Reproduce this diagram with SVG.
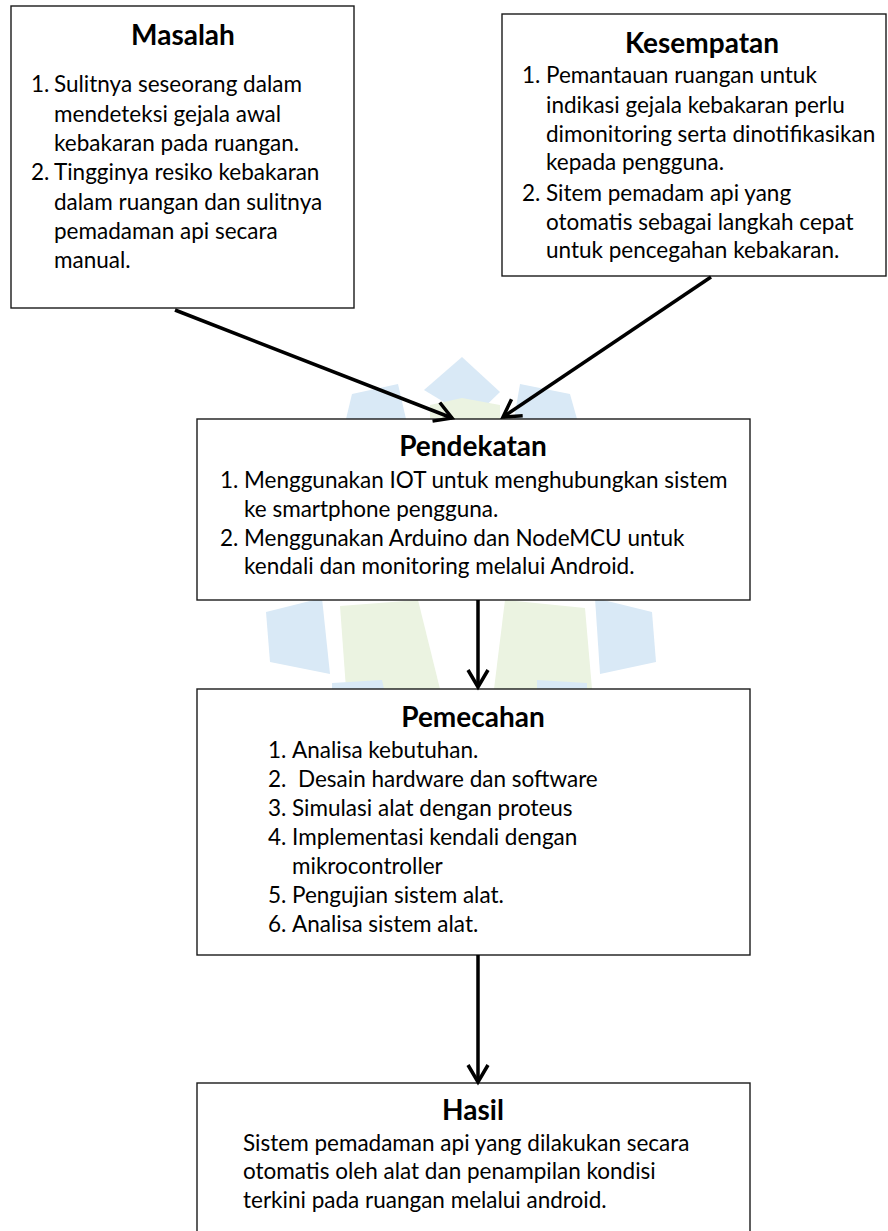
<svg xmlns="http://www.w3.org/2000/svg" width="888" height="1231" viewBox="0 0 888 1231">
<style>
  .box { fill: #ffffff; stroke: #1a1a1a; stroke-width: 1.4; }
  .t { font-family: Lato, "Liberation Sans", sans-serif; font-size: 22.5px; fill: #000; }
  .h { font-family: Lato, "Liberation Sans", sans-serif; font-size: 28px; font-weight: bold; fill: #000; text-anchor: middle; }
  .c { stroke: #000; stroke-width: 3.5; fill: none; }
  .wb { fill: #d9e9f6; }
  .wg { fill: #ebf3e1; }
</style>
<defs>
  <marker id="arr" markerUnits="userSpaceOnUse" markerWidth="30" markerHeight="30" refX="0" refY="0" viewBox="-22 -15 26 30" orient="auto">
    <path d="M -17,-10 L 0,0 L -17,10" fill="none" stroke="#000" stroke-width="3.5" stroke-linejoin="miter"/>
  </marker>
</defs>
<rect width="888" height="1231" fill="#ffffff"/>
<g id="watermark">
  <polygon class="wb" points="462,357 500,392 472,419 424,390"/>
  <polygon class="wb" points="352,394 398,384 406,419 346,419"/>
  <polygon class="wb" points="520,384 570,394 577,419 514,419"/>
  <polygon class="wg" points="430,405 462,398 500,405 500,419 430,419"/>
  <polygon class="wb" points="266,612 322,598 330,674 270,662"/>
  <polygon class="wg" points="340,606 418,600 440,689 346,689"/>
  <polygon class="wg" points="505,600 585,608 592,689 494,689"/>
  <polygon class="wb" points="595,598 652,612 656,662 600,674"/>
  <polygon class="wb" points="332,683 382,680 384,689 332,689"/>
  <polygon class="wb" points="537,680 587,683 587,689 537,689"/>
</g>
<g id="masalah">
  <rect class="box" x="11" y="6" width="343" height="302"/>
  <text class="h" x="183" y="45">Masalah</text>
  <text class="t" x="31" y="92">1.</text><text class="t" x="54" y="92">Sulitnya seseorang dalam</text>
  <text class="t" x="54" y="122">mendeteksi gejala awal</text>
  <text class="t" x="54" y="151">kebakaran pada ruangan.</text>
  <text class="t" x="31" y="180">2.</text><text class="t" x="54" y="180">Tingginya resiko kebakaran</text>
  <text class="t" x="54" y="210">dalam ruangan dan sulitnya</text>
  <text class="t" x="54" y="239">pemadaman api secara</text>
  <text class="t" x="54" y="268">manual.</text>
</g>
<g id="kesempatan">
  <rect class="box" x="502" y="14" width="384" height="262"/>
  <text class="h" x="702" y="53">Kesempatan</text>
  <text class="t" x="522" y="83">1.</text><text class="t" x="546" y="83">Pemantauan ruangan untuk</text>
  <text class="t" x="546" y="113">indikasi gejala kebakaran perlu</text>
  <text class="t" x="546" y="142">dimonitoring serta dinotifikasikan</text>
  <text class="t" x="546" y="170">kepada pengguna.</text>
  <text class="t" x="522" y="201">2.</text><text class="t" x="546" y="201">Sitem pemadam api yang</text>
  <text class="t" x="546" y="230">otomatis sebagai langkah cepat</text>
  <text class="t" x="546" y="258">untuk pencegahan kebakaran.</text>
</g>
<g id="pendekatan">
  <rect class="box" x="197" y="419" width="553" height="181"/>
  <text class="h" x="473" y="456">Pendekatan</text>
  <text class="t" x="220" y="488">1.</text><text class="t" x="244" y="488">Menggunakan IOT untuk menghubungkan sistem</text>
  <text class="t" x="244" y="517">ke smartphone pengguna.</text>
  <text class="t" x="220" y="546">2.</text><text class="t" x="244" y="546">Menggunakan Arduino dan NodeMCU untuk</text>
  <text class="t" x="244" y="574">kendali dan monitoring melalui Android.</text>
</g>
<g id="pemecahan">
  <rect class="box" x="197" y="689" width="553" height="266"/>
  <text class="h" x="473" y="727">Pemecahan</text>
  <text class="t" x="268" y="758">1.</text><text class="t" x="292" y="758">Analisa kebutuhan.</text>
  <text class="t" x="268" y="787">2.</text><text class="t" x="298" y="787">Desain hardware dan software</text>
  <text class="t" x="268" y="816">3.</text><text class="t" x="292" y="816">Simulasi alat dengan proteus</text>
  <text class="t" x="268" y="845">4.</text><text class="t" x="292" y="845">Implementasi kendali dengan</text>
  <text class="t" x="292" y="874">mikrocontroller</text>
  <text class="t" x="268" y="903">5.</text><text class="t" x="292" y="903">Pengujian sistem alat.</text>
  <text class="t" x="268" y="932">6.</text><text class="t" x="292" y="932">Analisa sistem alat.</text>
</g>
<g id="hasil">
  <rect class="box" x="197" y="1083" width="553" height="160"/>
  <text class="h" x="473" y="1120">Hasil</text>
  <text class="t" x="243" y="1151">Sistem pemadaman api yang dilakukan secara</text>
  <text class="t" x="243" y="1179">otomatis oleh alat dan penampilan kondisi</text>
  <text class="t" x="243" y="1208">terkini pada ruangan melalui android.</text>
</g>
<g id="connectors">
  <line class="c" x1="175" y1="310" x2="452" y2="418" marker-end="url(#arr)"/>
  <line class="c" x1="711" y1="277" x2="503" y2="417" marker-end="url(#arr)"/>
  <line class="c" x1="478" y1="600" x2="478" y2="687" marker-end="url(#arr)"/>
  <line class="c" x1="478" y1="955" x2="478" y2="1082" marker-end="url(#arr)"/>
</g>
</svg>
